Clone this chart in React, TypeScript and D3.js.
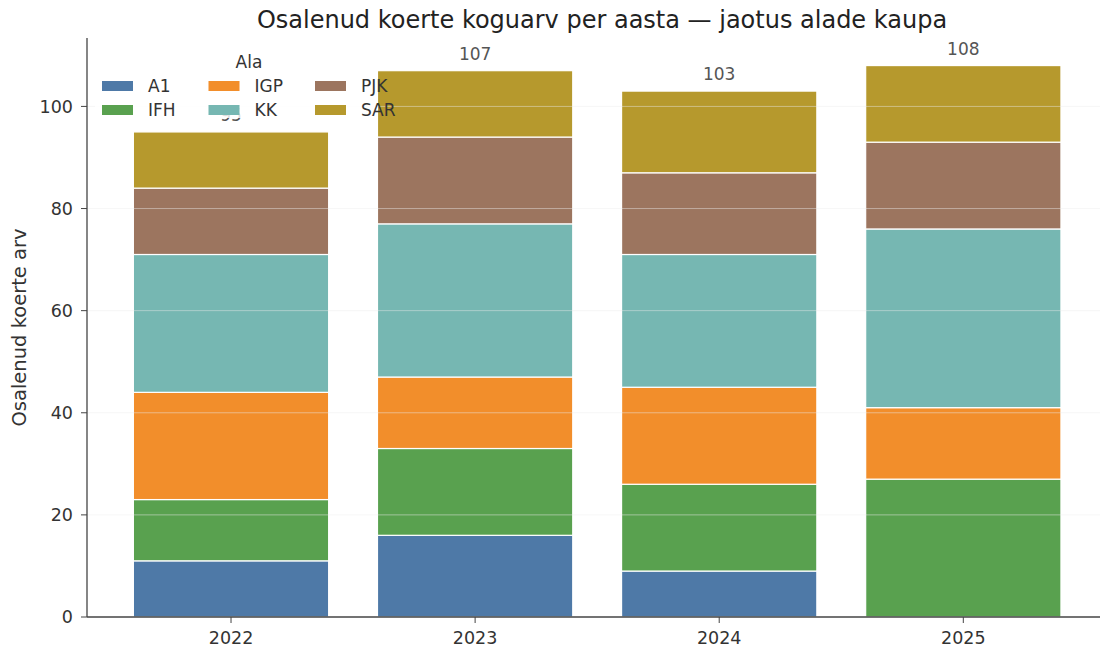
import React from 'react';
import {scaleLinear} from 'd3';

const years = ['2022', '2023', '2024', '2025'];
const categories = ['A1', 'IFH', 'IGP', 'KK', 'PJK', 'SAR'];
const colors = ['#4e79a7', '#59a14f', '#f28e2b', '#76b7b2', '#9c755f', '#b6992d'];

// values per category, one entry per year
const a1 = [11, 16, 9, 0];
const ifh = [12, 17, 17, 27];
const igp = [21, 14, 19, 14];
const kk = [27, 30, 26, 35];
const pjk = [13, 17, 16, 17];
const sar = [11, 13, 16, 15];
const series = [a1, ifh, igp, kk, pjk, sar];

const yTicks = [0, 20, 40, 60, 80, 100];

const W = 1102;
const H = 651;
const margin = {t: 38, r: 2, b: 34, l: 87};

const font = 'DejaVu Sans, sans-serif';

export default function App() {
	const totals = years.map((_, i) => series.reduce((s, arr) => s + arr[i], 0));
	const maxTotal = Math.max(...totals);

	const scaleX = scaleLinear().domain([-0.59, 3.56]).range([margin.l, W - margin.r]);
	const scaleY = scaleLinear().domain([0, maxTotal * 1.05]).range([H - margin.b, margin.t]);
	const barW = (scaleX(1) - scaleX(0)) * 0.8;

	// stack the segments
	const stacks = years.map((_, i) => {
		let base = 0;
		return series.map((arr, k) => {
			const seg = {k, y0: base, y1: base + arr[i]};
			base += arr[i];
			return seg;
		});
	});

	const legendCols = [[0, 1], [2, 3], [4, 5]];

	return (
		<svg width={W} height={H} style={{position: 'absolute', left: 0, top: 0, background: '#fff'}}>
			{/* bars */}
			{years.map((yr, i) => (
				<g key={yr}>
					{stacks[i].filter(s => s.y1 > s.y0).map(s => (
						<rect
							key={s.k}
							x={scaleX(i) - barW / 2}
							y={scaleY(s.y1)}
							width={barW}
							height={scaleY(s.y0) - scaleY(s.y1)}
							fill={colors[s.k]}
							stroke='#fff'
							strokeWidth={1.2}
						/>
					))}
				</g>
			))}
			{/* faint grid over bars */}
			{yTicks.slice(1).map(t => (
				<line key={t} x1={margin.l} x2={W - margin.r} y1={scaleY(t)} y2={scaleY(t)}
					stroke='#fff' strokeOpacity={0.25} strokeWidth={1} />
			))}
			{yTicks.slice(1).map(t => (
				<line key={'g' + t} x1={margin.l} x2={W - margin.r} y1={scaleY(t)} y2={scaleY(t)}
					stroke='#ddd' strokeOpacity={0.35} strokeWidth={0.8} />
			))}
			{/* totals */}
			{totals.map((tot, i) => (
				<text key={i} x={scaleX(i)} y={scaleY(tot) - 11} textAnchor='middle'
					fontFamily={font} fontSize={17} fill='#555'>{tot}</text>
			))}
			{/* axes */}
			<line x1={margin.l} x2={margin.l} y1={margin.t} y2={H - margin.b} stroke='#444' strokeWidth={1.3} />
			<line x1={margin.l} x2={W - margin.r} y1={H - margin.b} y2={H - margin.b} stroke='#444' strokeWidth={1.3} />
			{yTicks.map(t => (
				<g key={t} transform={`translate(${margin.l},${scaleY(t)})`}>
					<line x1={-6} x2={0} stroke='#444' />
					<text x={-14} dy='0.35em' textAnchor='end' fontFamily={font} fontSize={17.5} fill='#333'>{t}</text>
				</g>
			))}
			{years.map((yr, i) => (
				<g key={yr} transform={`translate(${scaleX(i)},${H - margin.b})`}>
					<line y1={0} y2={6} stroke='#444' />
					<text y={27} textAnchor='middle' fontFamily={font} fontSize={17.5} fill='#333'>{yr}</text>
				</g>
			))}
			<text transform={`translate(26,${(margin.t + H - margin.b) / 2}) rotate(-90)`} textAnchor='middle'
				fontFamily={font} fontSize={19.5} fill='#333'>Osalenud koerte arv</text>
			<text x={602} y={28} textAnchor='middle' fontFamily={font} fontSize={24} fill='#222'>
				Osalenud koerte koguarv per aasta — jaotus alade kaupa
			</text>
			{/* legend */}
			<rect x={95} y={45} width={283} height={73} fill='#fff' fillOpacity={0.8} />
			<text x={249} y={68} textAnchor='middle' fontFamily={font} fontSize={17} fill='#333'>Ala</text>
			{legendCols.map((col, c) => col.map((k, r) => (
				<g key={k} transform={`translate(${102 + c * 106.5},${86 + r * 24})`}>
					<rect x={0} y={-5} width={31} height={10} fill={colors[k]} />
					<text x={46} dy='0.35em' fontFamily={font} fontSize={17} fill='#333'>{categories[k]}</text>
				</g>
			)))}
		</svg>
	);
}
